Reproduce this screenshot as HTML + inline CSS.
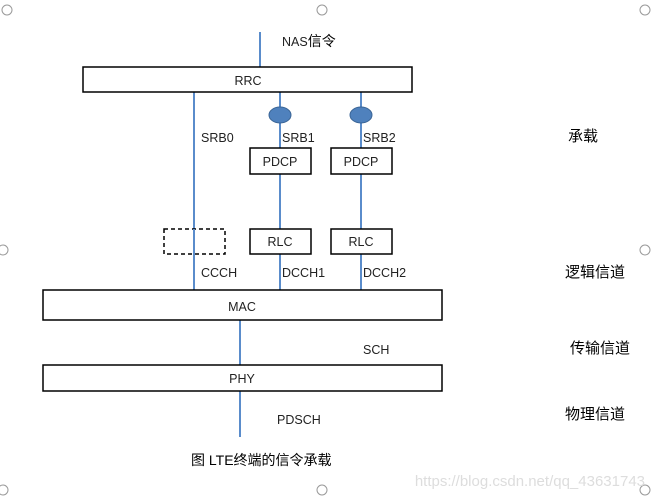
<!DOCTYPE html>
<html><head><meta charset="utf-8"><style>
html,body{margin:0;padding:0;background:#fff;}
svg text{font-family:"Liberation Sans","Noto Sans CJK SC",sans-serif;font-size:12.5px;fill:#222;}
.cj{font-size:15px;fill:#000;}
</style></head><body>
<svg width="652" height="499" xmlns="http://www.w3.org/2000/svg">
<g fill="#fff" stroke="#999" stroke-width="1">
<circle cx="7" cy="10" r="5"/><circle cx="322" cy="10" r="5"/><circle cx="645" cy="10" r="5"/>
<circle cx="3" cy="250" r="5"/><circle cx="645" cy="250" r="5"/>
<circle cx="3" cy="490" r="5"/><circle cx="322" cy="490" r="5"/><circle cx="645" cy="490" r="5"/>
</g>
<g stroke="#5a8ccb" stroke-width="2">
<line x1="260" y1="32" x2="260" y2="67"/>
<line x1="194" y1="92" x2="194" y2="290"/>
<line x1="280" y1="92" x2="280" y2="290"/>
<line x1="361" y1="92" x2="361" y2="290"/>
<line x1="240" y1="320" x2="240" y2="365"/>
<line x1="240" y1="391" x2="240" y2="437"/>
</g>
<ellipse cx="280" cy="115" rx="11" ry="8" fill="#4f81bd" stroke="#3a6596"/>
<ellipse cx="361" cy="115" rx="11" ry="8" fill="#4f81bd" stroke="#3a6596"/>
<g fill="#fff" stroke="#000" stroke-width="1.5">
<rect x="83" y="67" width="329" height="25"/>
<rect x="250" y="148" width="61" height="26"/>
<rect x="331" y="148" width="61" height="26"/>
<rect x="250" y="229" width="61" height="25"/>
<rect x="331" y="229" width="61" height="25"/>
<rect x="43" y="290" width="399" height="30"/>
<rect x="43" y="365" width="399" height="26"/>
</g>
<rect x="164" y="229" width="61" height="25" fill="none" stroke="#000" stroke-width="1.5" stroke-dasharray="4,3"/>
<line x1="194" y1="229" x2="194" y2="254" stroke="#5a8ccb" stroke-width="2"/>
<text x="282" y="46">NAS<tspan class="cj" style="font-size:14px">信令</tspan></text>
<text x="248" y="85" text-anchor="middle">RRC</text>
<text x="201" y="142">SRB0</text>
<text x="282" y="142">SRB1</text>
<text x="363" y="142">SRB2</text>
<text x="280" y="166" text-anchor="middle">PDCP</text>
<text x="361" y="166" text-anchor="middle">PDCP</text>
<text x="280" y="246" text-anchor="middle">RLC</text>
<text x="361" y="246" text-anchor="middle">RLC</text>
<text x="201" y="277">CCCH</text>
<text x="282" y="277">DCCH1</text>
<text x="363" y="277">DCCH2</text>
<text x="242" y="311" text-anchor="middle">MAC</text>
<text x="363" y="354">SCH</text>
<text x="242" y="383" text-anchor="middle">PHY</text>
<text x="277" y="424">PDSCH</text>
<text x="191" y="465" class="cj" style="font-size:14px">图  LTE终端的信令承载</text>
<text x="568" y="141" class="cj">承载</text>
<text x="565" y="277" class="cj">逻辑信道</text>
<text x="570" y="353" class="cj">传输信道</text>
<text x="565" y="419" class="cj">物理信道</text>
<text x="645" y="486" text-anchor="end" style="font-size:15px;fill:#ddd">https://blog.csdn.net/qq_43631743</text>
</svg>
</body></html>
